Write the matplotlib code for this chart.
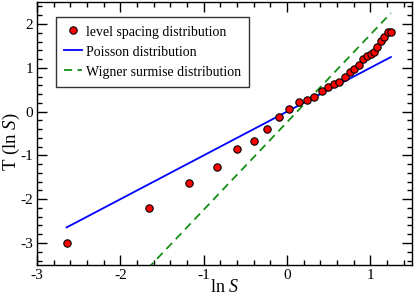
import numpy as np
import matplotlib
matplotlib.use("Agg")
import matplotlib.pyplot as plt
from matplotlib.ticker import MultipleLocator

plt.rcParams["font.family"] = ["Liberation Serif", "DejaVu Serif"]
plt.rcParams["mathtext.fontset"] = "custom"
plt.rcParams["mathtext.rm"] = "Liberation Serif"
plt.rcParams["mathtext.it"] = "Liberation Serif:italic"
plt.rcParams["axes.unicode_minus"] = False

# level spacing data: ln S and T(ln S)
ln_s = [-2.644, -1.656, -1.172, -0.844, -0.596, -0.396, -0.236, -0.092,
        0.029, 0.145, 0.245, 0.329, 0.418, 0.497, 0.565, 0.629, 0.697,
        0.757, 0.805, 0.862, 0.910, 0.965, 1.006, 1.046, 1.085, 1.130,
        1.169, 1.205, 1.246]
t_val = [-2.99, -2.21, -1.62, -1.27, -0.86, -0.68, -0.40, -0.13,
         0.06, 0.23, 0.27, 0.34, 0.47, 0.56, 0.64, 0.67, 0.79,
         0.90, 0.98, 1.07, 1.19, 1.28, 1.31, 1.35, 1.48, 1.61,
         1.70, 1.82, 1.82]

# reference curves over the data range
x_line = np.linspace(min(ln_s), max(ln_s), 200)
poisson = x_line
wigner = 2 * x_line + np.log(np.pi / 4)

fig = plt.figure(figsize=(4.15, 2.97), dpi=100)
ax = fig.add_axes([0.089, 0.108, 0.904, 0.885])

ax.plot(ln_s, t_val, "o", ms=5.3, mfc="red", mec="black", mew=0.8,
        label="level spacing distribution", zorder=5)
ax.plot(x_line, poisson, color="#0000ff", lw=1.3, label="Poisson distribution")
ax.plot(x_line, wigner, color="#139013", lw=1.3, ls=(0, (4.5, 3)),
        label="Wigner surmise distribution")

ax.set_xlim(-3, 1.5)
ax.set_ylim(-3.5, 2.5)
ax.xaxis.set_major_locator(MultipleLocator(1))
ax.xaxis.set_minor_locator(MultipleLocator(0.2))
ax.yaxis.set_major_locator(MultipleLocator(1))
ax.yaxis.set_minor_locator(MultipleLocator(0.2))
ax.tick_params(which="both", direction="in", top=True, right=True,
               labelsize=11, pad=3)
ax.tick_params(axis="y", pad=2.5)
ax.tick_params(which="major", length=7, width=1)
ax.tick_params(which="minor", length=3.5, width=1)
for sp in ax.spines.values():
    sp.set_linewidth(1)

ax.set_xlabel(r"ln $\mathit{S}$", fontsize=13, labelpad=-2)
ax.set_ylabel(r"T (ln $\mathit{S}$)", fontsize=13.5)
ax.yaxis.set_label_coords(-0.04, 0.47)

leg = ax.legend(loc="upper left", bbox_to_anchor=(0.051, 0.943), fontsize=10,
                frameon=True, fancybox=False, edgecolor="black",
                handlelength=1.3, handleheight=1.1, handletextpad=0.3,
                borderpad=0.55, labelspacing=0.4, borderaxespad=0)
leg.get_frame().set_linewidth(1)

fig.savefig("out.png", dpi=100)
